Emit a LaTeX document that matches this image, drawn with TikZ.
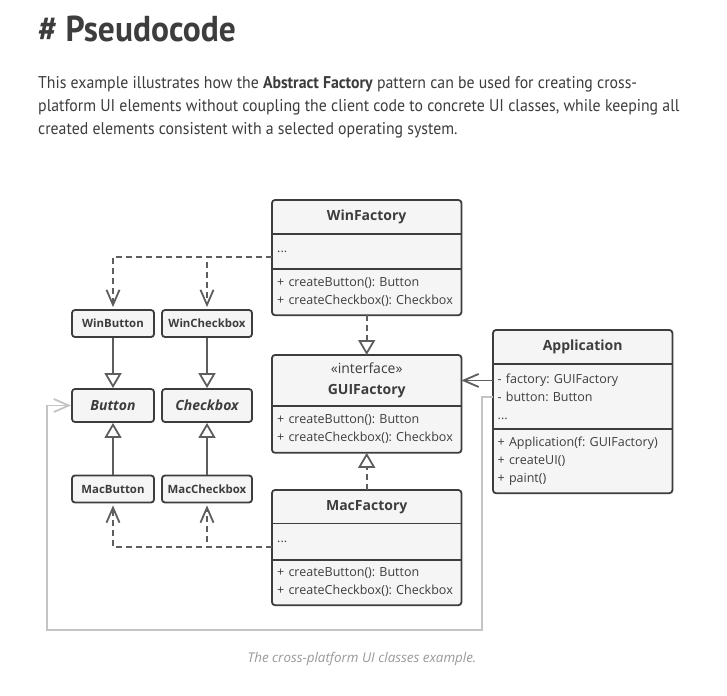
\documentclass[tikz,border=0pt]{standalone}
\usepackage{fontspec}
\setmainfont{Open Sans}
\newfontfamily\ptsans[FakeStretch=0.93]{PT Sans}
\usetikzlibrary{arrows.meta,positioning}
\definecolor{ink}{HTML}{3D3D3D}
\definecolor{boxfill}{HTML}{F5F5F5}
\definecolor{wire}{HTML}{5E5E5E}
\definecolor{faint}{HTML}{C4C4C4}
\definecolor{capt}{HTML}{999999}
\frenchspacing

\begin{document}
\begin{tikzpicture}[x=1pt, y=-1pt, text=ink, font=\fontsize{12.5}{18}\selectfont,
  hdr/.style={fill=boxfill, minimum width=189pt, inner sep=0pt, align=center, font=\fontsize{14}{21}\selectfont\bfseries},
  sect/.style={fill=boxfill, text width=179pt, inner xsep=5pt, inner ysep=0pt, align=left},
  frame/.style={draw=ink, line width=1.8pt, rounded corners=3pt},
  small/.style={frame, fill=boxfill, minimum width=82pt, minimum height=27pt, inner sep=0pt, font=\fontsize{11.4}{14}\selectfont\bfseries},
  gen/.style={draw=wire, line width=1.8pt, -{Triangle[length=15pt, width=17pt, fill=white]}},
  real/.style={gen, dash pattern=on 6pt off 4pt},
  assoc/.style={draw=wire, line width=1.8pt, -{Straight Barb[length=15pt, width=13pt]}},
  dep/.style={assoc, dash pattern=on 6pt off 4pt, shorten >=2pt},
  link/.style={assoc, draw=faint},
  prose/.style={anchor=base west, inner sep=0pt, font=\ptsans\fontsize{17}{24}\selectfont}]

  \fill[white] (0,0) rectangle (727,695);
  \useasboundingbox (0,0) rectangle (727,695);

  \node[anchor=base west, inner sep=0pt, font=\ptsans\bfseries\fontsize{36}{40}\selectfont] (t) at (38,41.7) {\# Pseudocode};
  \node[prose] (p1) at (38,88.3) {This example illustrates how the \textbf{Abstract Factory} pattern can be used for creating cross-};
  \node[prose] (p2) at (38,111.7) {platform UI elements without coupling the client code to concrete UI classes, while keeping all};
  \node[prose] (p3) at (38,135) {created elements consistent with a selected operating system.};

  \node[hdr, minimum height=33.5pt, anchor=north west] (wf) at (272,200) {WinFactory};
  \node[sect, minimum height=34.5pt, below=0pt of wf] (wfa) {...};
  \node[sect, minimum height=46pt, below=0pt of wfa] (wfm) {+ createButton(): Button\\+ createCheckbox(): Checkbox};
  \draw[frame] (wf.north west) rectangle (wfm.south east);
  \draw[frame] (wfa.north west) -- (wfa.north east) (wfa.south west) -- (wfa.south east);

  \node[hdr, minimum height=50.5pt, anchor=north west] (gf) at (272,355) {{\mdseries «interface»}\\GUIFactory};
  \node[sect, minimum height=46.5pt, below=0pt of gf] (gfm) {+ createButton(): Button\\+ createCheckbox(): Checkbox};
  \draw[frame] (gf.north west) rectangle (gfm.south east);
  \draw[frame] (gfm.north west) -- (gfm.north east);

  \node[hdr, minimum height=33pt, anchor=north west] (mf) at (272,490) {MacFactory};
  \node[sect, minimum height=36pt, below=0pt of mf] (mfa) {...};
  \node[sect, minimum height=45pt, below=0pt of mfa] (mfm) {+ createButton(): Button\\+ createCheckbox(): Checkbox};
  \draw[frame] (mf.north west) rectangle (mfm.south east);
  \draw[frame] (mfa.north west) -- (mfa.north east) (mfa.south west) -- (mfa.south east);

  \node[hdr, minimum width=179pt, minimum height=33.5pt, anchor=north west] (ap) at (493,330) {Application};
  \node[sect, text width=170pt, inner xsep=4.5pt, minimum height=65pt, below=0pt of ap] (apa) {- factory: GUIFactory\\- button: Button\\...};
  \node[sect, text width=170pt, inner xsep=4.5pt, minimum height=63.5pt, below=0pt of apa] (apm) {+ Application(f: GUIFactory)\\+ createUI()\\+ paint()};
  \draw[frame] (ap.north west) rectangle (apm.south east);
  \draw[frame] (apa.north west) -- (apa.north east) (apa.south west) -- (apa.south east);

  \node[small] (wb) at (113,323.5) {WinButton};
  \node[small, minimum width=90pt] (wc) at (207,323.5) {WinCheckbox};
  \node[small, minimum height=33pt, font=\fontsize{14}{16}\selectfont\bfseries\itshape] (b) at (113,405.5) {Button};
  \node[small, minimum width=90pt, minimum height=33pt, font=\fontsize{14}{16}\selectfont\bfseries\itshape] (c) at (207,405.5) {Checkbox};
  \node[small] (mb) at (113,489) {MacButton};
  \node[small, minimum width=90pt] (mc) at (207,489) {MacCheckbox};

  \coordinate (r) at (482,630);
  \coordinate (l) at (47,630);

  \draw[dep] ([yshift=-6pt]wfa.west) -| (wb);
  \draw[dep] ([yshift=-6pt]wfa.west) -| (wc);
  \draw[dep] ([yshift=-5.5pt]mfa.west) -| (mb);
  \draw[dep] ([yshift=-5.5pt]mfa.west) -| (mc);
  \draw[gen] (wb) -- (b);
  \draw[gen] (wc) -- (c);
  \draw[gen] (mb) -- (b);
  \draw[gen] (mc) -- (c);
  \draw[real] (wfm) -- (gf);
  \draw[real] (mf) -- (gfm);
  \draw[assoc] (apa.west |- gf.east) -- (gf.east);
  \draw[link] (apa.west) -| (r) -- (l) |- (b);

  \node[anchor=base, text=capt, font=\itshape\fontsize{13.4}{16}\selectfont] (cap) at (362,662) {The cross-platform UI classes example.};

\end{tikzpicture}
\end{document}
